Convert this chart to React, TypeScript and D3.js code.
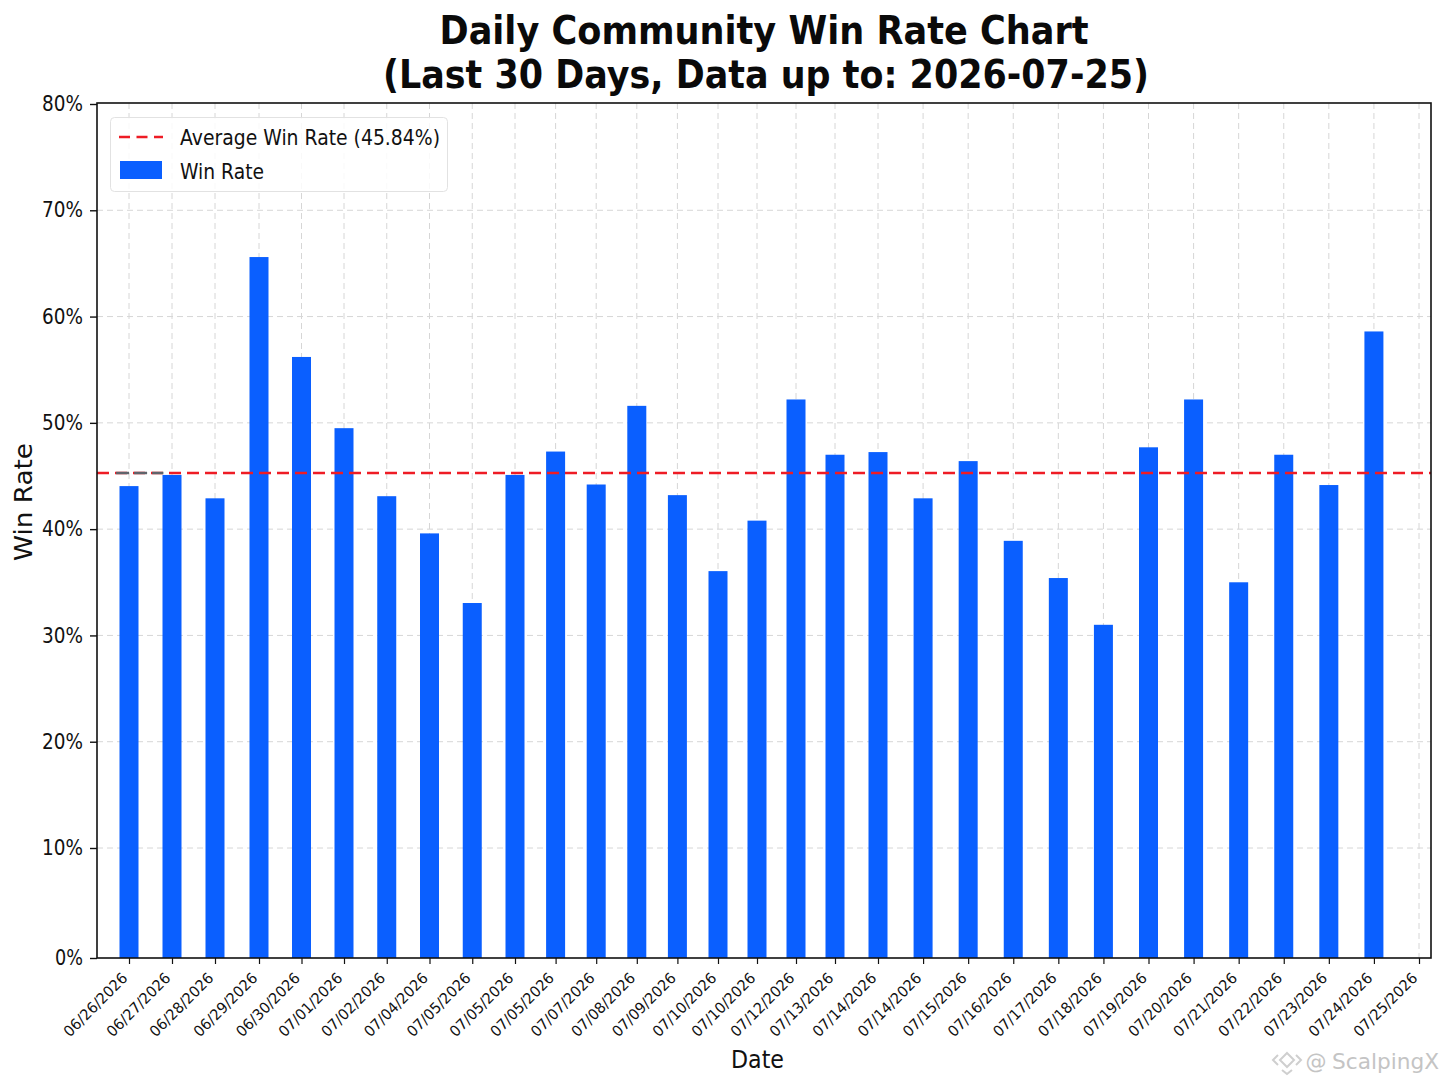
import { useEffect, useRef } from "react";
import * as d3 from "d3";

const dateLabels = [
  "06/26/2026", "06/27/2026", "06/28/2026", "06/29/2026", "06/30/2026", "07/01/2026",
  "07/02/2026", "07/04/2026", "07/05/2026", "07/05/2026", "07/05/2026", "07/07/2026",
  "07/08/2026", "07/09/2026", "07/10/2026", "07/10/2026", "07/12/2026", "07/13/2026",
  "07/14/2026", "07/14/2026", "07/15/2026", "07/16/2026", "07/17/2026", "07/18/2026",
  "07/19/2026", "07/20/2026", "07/21/2026", "07/22/2026", "07/23/2026", "07/24/2026",
  "07/25/2026",
];
const winRates = [
  44.05, 45.1, 42.9, 65.6, 56.2, 49.5, 43.1, 39.6, 33.05, 45.1,
  47.3, 44.2, 51.6, 43.2, 36.05, 40.8, 52.2, 47.0, 47.25, 42.9,
  46.4, 38.9, 35.4, 31.0, 47.7, 52.2, 35.0, 47.0, 44.15, 58.6,
];
const yTicks = [0, 10, 20, 30, 40, 50, 60, 70, 80];
const avgLineValue = 45.28;
const avgLabel = "Average Win Rate (45.84%)";

const FONT = "'DejaVu Sans', sans-serif";
const BLUE = "#0a5fff";
const RED = "#ee1c25";

export default function App() {
  const svgRef = useRef<SVGSVGElement>(null);

  useEffect(() => {
    if (!svgRef.current) return;
    const svg = d3.select(svgRef.current);
    svg.selectAll("*").remove();

    const left = 97, right = 1431, top = 103, bottom = 958;

    // the ticks are not quite evenly spaced in the picture, hence the knots
    const x = d3.scaleLinear()
      .domain([0, 2, 3, 5, 9, 14, 17, 18, 30])
      .range([129, 215, 259, 344, 515, 718, 835, 878, 1419]);
    const y = d3.scaleLinear()
      .domain([0, 10, 80])
      .range([958, 848, 104]);

    const addText = (
      str: string, tx: number, ty: number, size: number, len: number,
      anchor = "middle", weight = "normal", fill = "#111"
    ) =>
      svg.append("text")
        .attr("x", tx).attr("y", ty)
        .attr("font-family", FONT)
        .attr("font-size", size)
        .attr("font-weight", weight)
        .attr("text-anchor", anchor)
        .attr("fill", fill)
        .attr("textLength", len)
        .attr("lengthAdjust", "spacingAndGlyphs")
        .text(str);

    // Title
    addText("Daily Community Win Rate Chart", 764, 44, 39, 649, "middle", "bold", "#0a0a0a");
    addText("(Last 30 Days, Data up to: 2026-07-25)", 766, 88, 39, 766, "middle", "bold", "#0a0a0a");

    // Grid
    const grid = svg.append("g")
      .attr("stroke", "#d6d6d6").attr("stroke-width", 1).attr("stroke-dasharray", "6 4");
    yTicks.slice(1, -1).forEach((t) => {
      grid.append("line").attr("x1", left).attr("x2", right).attr("y1", y(t)).attr("y2", y(t));
    });
    dateLabels.forEach((_, i) => {
      grid.append("line").attr("x1", x(i)).attr("x2", x(i)).attr("y1", top).attr("y2", bottom);
    });

    // Bars
    svg.append("g").selectAll("rect")
      .data(winRates)
      .join("rect")
      .attr("x", (_, i) => x(i) - 9.5)
      .attr("width", 19)
      .attr("y", (d) => y(d))
      .attr("height", (d) => y(0) - y(d))
      .attr("fill", BLUE);

    // Average line
    svg.append("line")
      .attr("x1", left).attr("x2", right)
      .attr("y1", y(avgLineValue)).attr("y2", y(avgLineValue))
      .attr("stroke", RED).attr("stroke-width", 2.4)
      .attr("stroke-dasharray", "12 6");
    svg.append("line")
      .attr("x1", x(-0.3)).attr("x2", x(0.8))
      .attr("y1", y(avgLineValue)).attr("y2", y(avgLineValue))
      .attr("stroke", "#5f646b").attr("stroke-width", 2.4)
      .attr("stroke-dasharray", "13 5");

    // Axes frame
    svg.append("rect")
      .attr("x", left).attr("y", top)
      .attr("width", right - left).attr("height", bottom - top)
      .attr("fill", "none").attr("stroke", "#111").attr("stroke-width", 1.6);

    // Y axis
    const yAxis = svg.append("g")
      .attr("transform", `translate(${left},0)`)
      .call(d3.axisLeft(y).tickValues(yTicks).tickSize(7).tickFormat((d) => `${d}%`));
    yAxis.select(".domain").remove();
    yAxis.selectAll(".tick line").attr("stroke", "#111").attr("stroke-width", 1.4);
    yAxis.selectAll(".tick text")
      .attr("fill", "#111").attr("font-family", FONT).attr("font-size", 22)
      .attr("x", -14).attr("text-anchor", "end").attr("dy", "0.3em")
      .attr("textLength", (d) => (d === 0 ? 28 : 41))
      .attr("lengthAdjust", "spacingAndGlyphs");

    // X axis
    const xAxis = svg.append("g")
      .attr("transform", `translate(0,${bottom})`)
      .call(
        d3.axisBottom(x)
          .tickValues(dateLabels.map((_, i) => i))
          .tickSize(6)
          .tickFormat((_, i) => dateLabels[i])
      );
    xAxis.select(".domain").remove();
    xAxis.selectAll(".tick line").attr("stroke", "#111").attr("stroke-width", 1.2);
    xAxis.selectAll(".tick text")
      .attr("fill", "#111").attr("font-family", FONT).attr("font-size", 15)
      .attr("text-anchor", "end").attr("x", 0).attr("y", 0).attr("dy", 0)
      .attr("transform", "translate(-1,21) rotate(-45)")
      .attr("textLength", 83)
      .attr("lengthAdjust", "spacingAndGlyphs");

    // Axis titles
    addText("Date", 757.5, 1068, 25, 53);
    addText("Win Rate", 0, 0, 25, 118).attr("transform", "translate(32,502) rotate(-90)");

    // Legend
    svg.append("rect")
      .attr("x", 110.5).attr("y", 117.5).attr("width", 337).attr("height", 74).attr("rx", 4)
      .attr("fill", "#fff").attr("fill-opacity", 0.85)
      .attr("stroke", "#e2e2e2").attr("stroke-width", 1);
    svg.append("line")
      .attr("x1", 119).attr("x2", 163).attr("y1", 137).attr("y2", 137)
      .attr("stroke", RED).attr("stroke-width", 2.4).attr("stroke-dasharray", "11 6.5");
    svg.append("rect")
      .attr("x", 120).attr("y", 161).attr("width", 42).attr("height", 18).attr("fill", BLUE);
    addText(avgLabel, 180, 145, 22, 260, "start");
    addText("Win Rate", 180, 179, 22, 84, "start");

    // Watermark
    const mark = svg.append("g")
      .attr("fill", "none").attr("stroke", "#cfcfcf").attr("stroke-width", 2)
      .attr("transform", "translate(1287,1060)");
    mark.append("path").attr("d", "M0 -7 L7 0 L0 7 L-7 0 Z");
    mark.append("path").attr("d", "M-9 -5 L-14 0 L-9 5 M-5 10 L0 14 L5 10 M9 -5 L14 0 L9 5");
    addText("@", 1316, 1069, 21, 21, "middle", "normal", "#c4c4c4");
    addText("ScalpingX", 1332, 1069, 22, 107, "start", "normal", "#c4c4c4");
  }, []);

  return (
    <svg
      ref={svgRef}
      width={1448}
      height={1086}
      style={{ position: "absolute", left: 0, top: 0, background: "#fff" }}
    />
  );
}
